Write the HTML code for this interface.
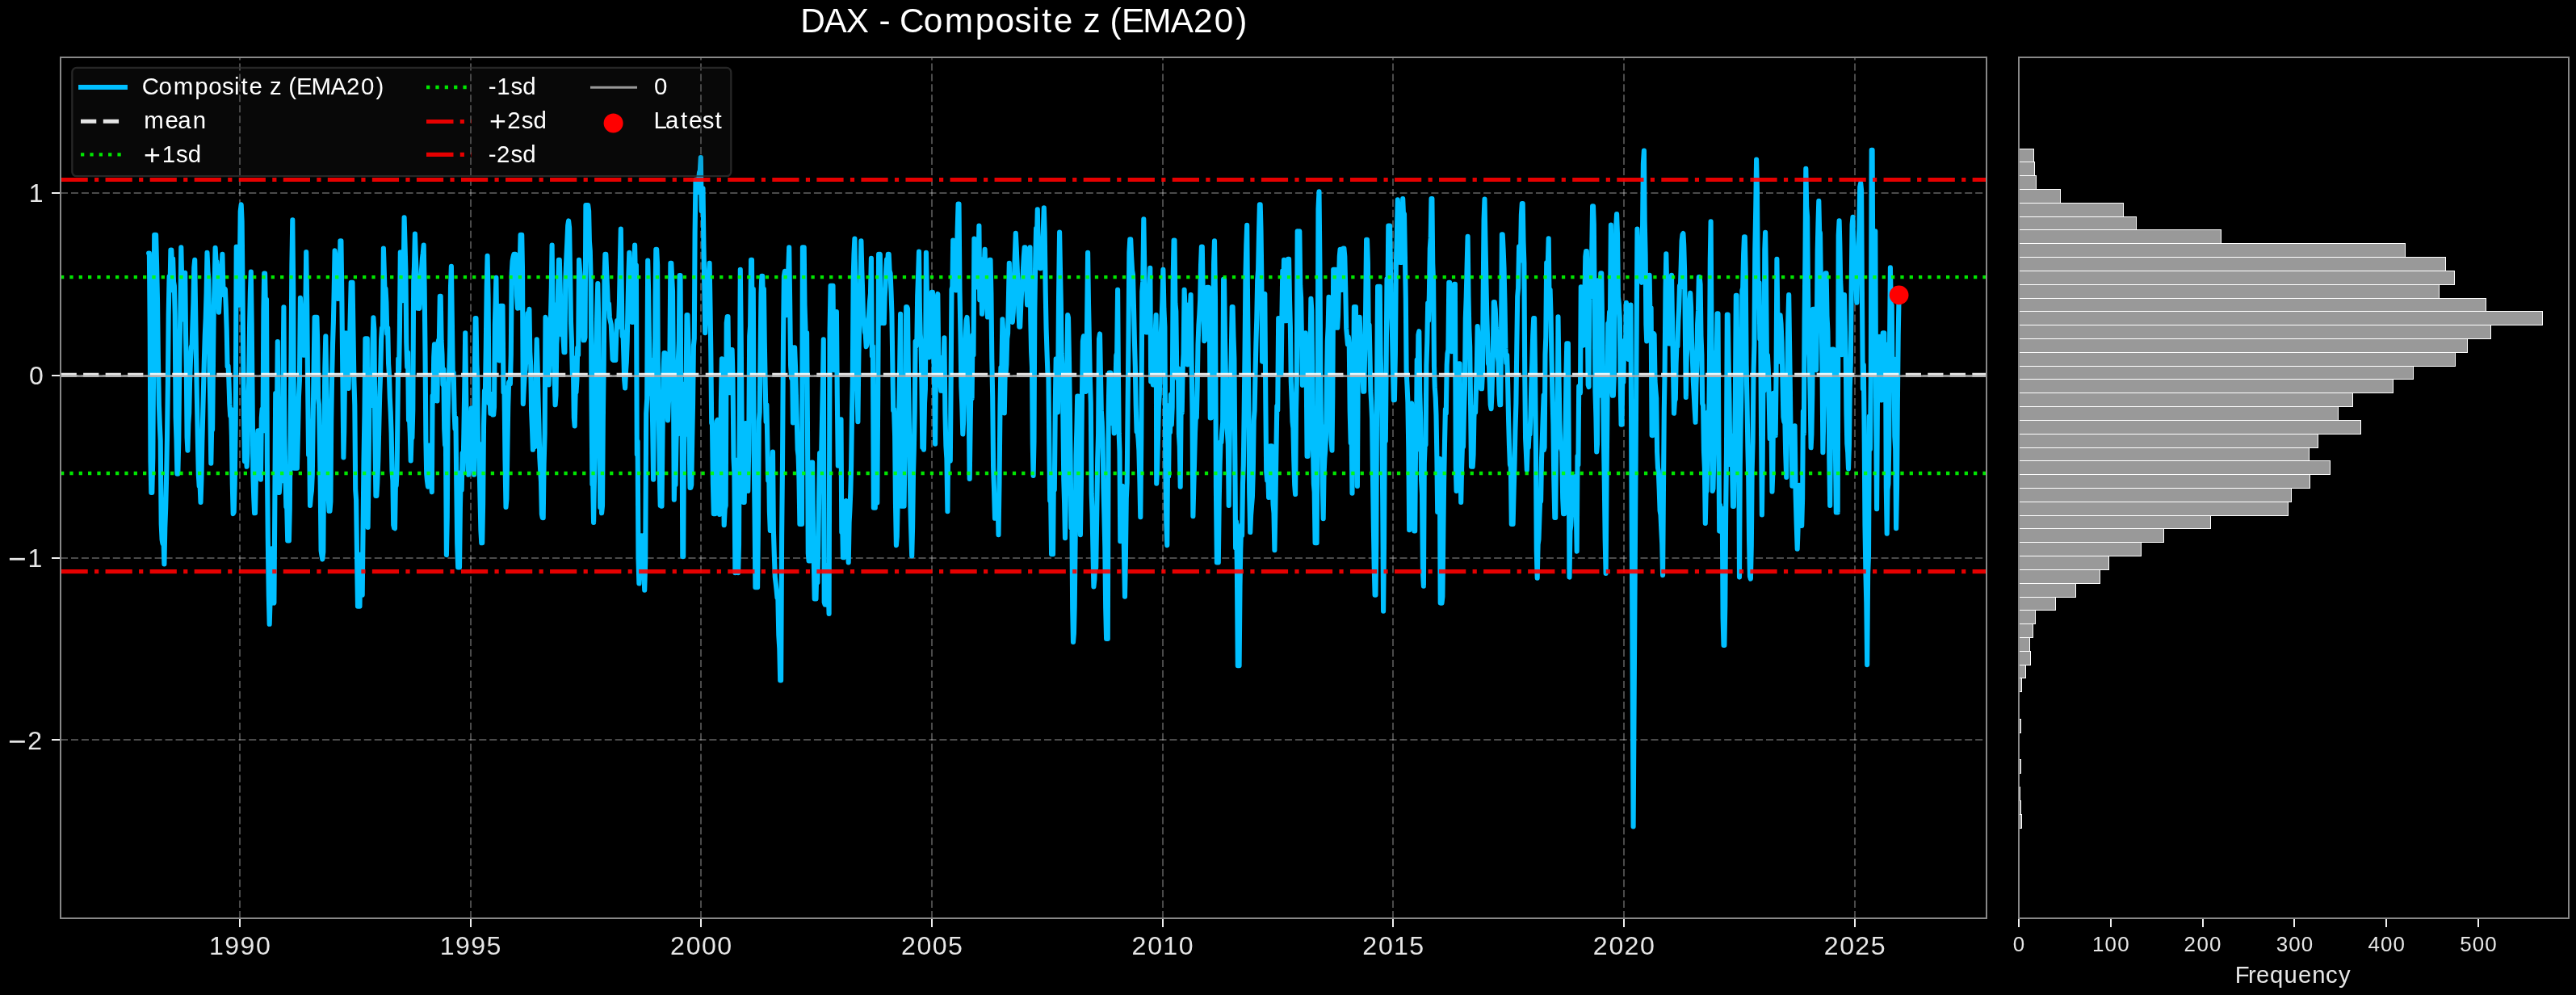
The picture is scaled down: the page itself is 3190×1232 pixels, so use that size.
<!DOCTYPE html><html><head><meta charset="utf-8"><title>DAX - Composite z (EMA20)</title><style>html,body{margin:0;padding:0;background:#000;}body{width:3190px;height:1232px;overflow:hidden;}</style></head><body><svg width="3190" height="1232" viewBox="0 0 3190 1232" style="display:block;will-change:transform">
<rect width="3190" height="1232" fill="#000"/>
<defs><clipPath id="cm"><rect x="75" y="71" width="2385" height="1066"/></clipPath></defs>
<g clip-path="url(#cm)" stroke="#ffffff" stroke-opacity="0.29" stroke-width="2" stroke-dasharray="9.05 3.907" fill="none">
<line x1="297" y1="1137" x2="297" y2="71"/>
<line x1="583" y1="1137" x2="583" y2="71"/>
<line x1="868" y1="1137" x2="868" y2="71"/>
<line x1="1154" y1="1137" x2="1154" y2="71"/>
<line x1="1440" y1="1137" x2="1440" y2="71"/>
<line x1="1725" y1="1137" x2="1725" y2="71"/>
<line x1="2011" y1="1137" x2="2011" y2="71"/>
<line x1="2297" y1="1137" x2="2297" y2="71"/>
<line x1="75" y1="239" x2="2460" y2="239"/>
<line x1="75" y1="465" x2="2460" y2="465"/>
<line x1="75" y1="691" x2="2460" y2="691"/>
<line x1="75" y1="916" x2="2460" y2="916"/>
</g>
<path d="M184.1,313.6 L184.9,313.6 L185.7,404.6 L186.5,572.1 L187.3,609.9 L188.3,609.9 L189.3,566.2 L190.2,443.7 L191.2,290.7 L192.2,290.7 L193.1,290.7 L194.1,329.3 L195.0,371.1 L195.9,444.0 L196.9,500.7 L197.8,525.6 L198.7,545.5 L199.7,648.8 L200.6,668.2 L201.5,673.1 L202.5,667.7 L203.4,698.4 L204.3,653.4 L205.2,628.4 L206.1,591.9 L207.0,541.6 L207.9,474.1 L208.7,390.0 L209.6,342.3 L210.5,359.9 L211.4,309.6 L212.3,309.6 L213.2,333.0 L214.1,320.2 L215.0,348.8 L215.9,354.1 L216.7,389.1 L217.6,516.7 L218.5,543.9 L219.4,586.6 L220.3,586.6 L221.3,544.9 L222.3,443.5 L223.3,389.5 L224.3,306.4 L225.1,343.7 L225.9,341.8 L226.8,395.4 L227.6,393.0 L228.4,345.3 L229.2,337.8 L230.0,412.1 L230.8,455.4 L231.6,541.7 L232.4,557.6 L233.3,525.1 L234.2,511.3 L235.0,474.3 L235.9,448.0 L236.8,429.8 L237.7,426.9 L238.6,398.2 L239.4,374.5 L240.3,331.3 L241.2,321.7 L242.1,383.3 L243.0,443.0 L243.9,493.5 L244.8,541.0 L245.8,587.3 L246.7,601.8 L247.6,599.3 L248.5,622.0 L249.4,593.8 L250.3,548.7 L251.2,513.4 L252.1,476.8 L252.9,445.1 L253.8,414.9 L254.7,394.2 L255.6,362.7 L256.5,312.8 L257.5,336.4 L258.4,346.1 L259.4,456.0 L260.3,501.1 L261.3,573.7 L262.2,527.7 L263.1,532.3 L264.0,447.0 L264.8,378.2 L265.7,349.8 L266.6,306.8 L267.5,322.8 L268.4,323.8 L269.2,336.3 L270.1,355.9 L271.0,386.6 L271.9,369.3 L272.8,358.8 L273.6,334.9 L274.5,332.9 L275.4,314.8 L276.3,353.0 L277.2,365.2 L278.1,357.3 L278.9,358.1 L279.8,380.2 L280.7,407.5 L281.6,453.8 L282.5,452.9 L283.4,470.5 L284.3,500.2 L285.2,514.9 L286.0,506.9 L286.9,539.5 L287.8,599.9 L288.7,636.1 L289.7,633.9 L290.7,599.5 L291.7,524.7 L292.7,305.6 L293.7,327.6 L294.7,342.5 L295.7,377.7 L296.7,350.3 L297.7,261.7 L298.7,253.3 L299.6,273.8 L300.4,345.8 L301.3,448.1 L302.1,517.2 L303.0,571.1 L303.9,552.7 L304.7,563.0 L305.6,577.7 L306.5,560.8 L307.3,498.6 L308.2,473.7 L309.1,403.4 L309.9,361.6 L310.8,336.6 L311.7,400.0 L312.5,481.7 L313.4,588.9 L314.3,617.0 L315.1,635.3 L316.0,635.3 L316.9,593.3 L317.7,553.8 L318.6,541.1 L319.4,533.3 L320.3,533.3 L321.2,543.2 L322.0,556.9 L322.9,593.8 L323.8,517.7 L324.6,506.6 L325.5,533.8 L326.4,383.9 L327.2,338.6 L328.1,338.6 L329.0,390.3 L330.0,370.7 L330.9,573.1 L331.8,667.7 L332.8,737.3 L333.7,772.8 L334.6,741.6 L335.6,710.5 L336.5,679.3 L337.5,746.6 L338.4,744.0 L339.4,746.6 L340.3,628.3 L341.2,487.0 L342.0,499.4 L342.9,522.7 L343.8,423.0 L344.8,609.9 L345.8,609.9 L346.7,596.4 L347.7,582.9 L348.6,595.3 L349.5,581.1 L350.5,466.1 L351.4,380.4 L352.4,538.8 L353.3,584.4 L354.3,627.4 L355.2,625.8 L356.2,669.4 L357.1,669.4 L357.9,669.4 L358.8,629.4 L359.7,518.0 L360.6,434.7 L361.4,328.3 L362.3,272.2 L363.2,358.5 L364.2,579.8 L365.1,579.8 L366.0,579.8 L367.0,579.8 L367.9,579.8 L368.9,539.1 L369.9,491.6 L370.9,471.1 L371.9,368.7 L372.8,384.9 L373.7,406.9 L374.6,437.9 L375.5,439.8 L376.5,439.8 L377.4,396.9 L378.3,388.1 L379.2,312.0 L380.2,377.2 L381.1,476.3 L382.1,563.1 L383.0,541.5 L384.0,626.0 L384.9,615.2 L385.9,607.6 L386.8,587.5 L387.7,520.9 L388.7,449.8 L389.6,392.9 L390.5,392.9 L391.5,392.9 L392.4,392.9 L393.3,428.3 L394.1,493.0 L395.0,500.9 L395.9,550.8 L396.7,600.1 L397.6,681.8 L398.4,687.3 L399.3,692.4 L400.3,683.3 L401.3,553.8 L402.3,455.9 L403.3,416.2 L404.2,473.4 L405.0,525.3 L405.9,581.4 L406.8,617.5 L407.6,632.8 L408.5,632.8 L409.4,621.0 L410.2,522.0 L411.1,465.4 L412.0,426.7 L412.9,398.7 L413.7,360.1 L414.6,310.4 L415.5,316.8 L416.3,340.8 L417.1,365.7 L418.0,370.0 L418.9,363.7 L419.7,365.5 L420.5,369.8 L421.4,298.4 L422.4,298.4 L423.4,372.4 L424.4,470.7 L425.4,566.5 L426.2,533.9 L427.0,469.3 L427.8,437.4 L428.6,412.2 L429.6,419.9 L430.6,438.6 L431.6,481.0 L432.7,437.2 L433.7,393.5 L434.7,349.8 L435.6,349.8 L436.5,349.8 L437.5,413.6 L438.4,470.4 L439.3,501.5 L440.2,606.3 L441.1,619.1 L442.1,693.1 L443.0,750.7 L443.9,750.7 L444.7,750.7 L445.5,750.7 L446.3,686.6 L447.1,714.9 L447.9,711.4 L448.7,736.6 L449.6,652.9 L450.5,570.8 L451.5,511.8 L452.4,419.4 L453.2,419.4 L454.0,419.4 L454.8,419.4 L455.6,652.9 L456.5,586.7 L457.3,506.6 L458.1,493.2 L459.0,502.5 L459.9,490.6 L460.7,490.3 L461.5,426.4 L462.4,393.3 L463.4,408.9 L464.4,540.2 L465.4,613.9 L466.4,613.9 L467.3,597.4 L468.3,569.6 L469.2,531.6 L470.2,489.2 L471.1,465.2 L472.1,420.6 L473.0,406.3 L474.0,404.1 L474.9,307.6 L475.8,336.3 L476.7,366.7 L477.5,357.3 L478.4,374.5 L479.3,413.2 L480.2,405.8 L481.1,450.6 L481.9,462.9 L482.8,492.5 L483.7,510.4 L484.6,535.9 L485.5,583.0 L486.4,595.0 L487.2,650.0 L488.1,653.7 L489.0,654.2 L489.9,597.5 L490.7,601.3 L491.6,581.5 L492.4,518.1 L493.2,444.3 L494.1,458.9 L494.9,409.1 L495.8,312.4 L496.6,352.4 L497.4,365.6 L498.2,372.2 L499.0,313.2 L499.8,331.2 L500.6,269.4 L501.5,301.4 L502.4,335.1 L503.3,424.3 L504.2,454.4 L505.1,436.5 L506.0,520.2 L506.9,515.2 L507.8,536.3 L508.7,570.5 L509.6,539.8 L510.4,542.3 L511.3,506.8 L512.2,348.2 L513.0,330.7 L513.9,289.5 L514.8,317.0 L515.7,339.5 L516.6,362.2 L517.5,381.8 L518.4,380.6 L519.3,381.8 L520.2,371.1 L521.1,356.7 L522.0,334.5 L522.9,320.5 L523.8,313.4 L524.7,303.6 L525.6,353.8 L526.5,435.0 L527.4,545.2 L528.2,586.7 L529.1,596.1 L530.0,602.7 L530.8,585.8 L531.6,567.4 L532.4,551.4 L533.2,574.3 L534.0,597.0 L534.8,609.1 L535.6,490.1 L536.4,497.5 L537.2,442.3 L538.0,426.2 L538.9,454.0 L539.7,460.1 L540.5,474.1 L541.4,496.4 L542.2,426.0 L543.1,421.1 L543.9,420.7 L544.8,366.7 L545.7,366.7 L546.6,422.0 L547.5,438.8 L548.4,476.3 L549.3,457.3 L550.2,530.9 L551.1,550.9 L552.0,553.3 L552.9,687.1 L553.8,640.0 L554.6,513.8 L555.5,475.3 L556.3,458.3 L557.2,428.3 L558.0,355.9 L558.9,329.7 L559.8,393.2 L560.7,459.6 L561.7,461.6 L562.6,510.5 L563.5,530.8 L564.4,517.6 L565.3,600.1 L566.2,673.3 L567.2,702.4 L568.1,702.4 L569.0,702.4 L569.9,628.6 L570.8,584.8 L571.7,606.8 L572.6,561.0 L573.5,583.0 L574.4,535.5 L575.3,479.3 L576.2,412.2 L577.2,489.0 L578.2,562.8 L579.2,550.5 L580.2,587.8 L581.1,578.6 L581.9,563.6 L582.8,538.1 L583.7,505.3 L584.5,555.3 L585.4,547.1 L586.2,573.2 L587.1,587.8 L587.9,454.3 L588.7,394.1 L589.5,394.1 L590.4,451.8 L591.2,470.2 L592.0,553.2 L592.9,548.8 L593.8,585.1 L594.6,620.1 L595.4,656.6 L596.3,672.3 L597.2,672.3 L598.1,623.7 L599.0,527.5 L600.0,483.9 L600.9,487.1 L601.8,430.1 L602.7,355.2 L603.6,316.9 L604.6,368.7 L605.5,499.2 L606.5,490.0 L607.4,511.8 L608.4,488.1 L609.3,502.1 L610.2,513.4 L611.2,513.4 L612.0,503.9 L612.8,402.6 L613.6,374.7 L614.4,343.8 L615.2,408.6 L616.0,427.0 L616.8,418.2 L617.6,446.1 L618.5,446.4 L619.5,378.8 L620.5,378.8 L621.5,378.8 L622.5,378.8 L623.5,485.6 L624.5,479.2 L625.5,569.4 L626.5,628.0 L627.4,617.8 L628.3,560.8 L629.2,504.0 L630.1,473.5 L631.0,471.9 L631.9,475.5 L632.8,438.7 L633.7,338.1 L634.6,323.2 L635.5,318.2 L636.4,314.8 L637.3,314.8 L638.2,314.8 L639.1,326.8 L640.0,366.0 L641.0,381.6 L641.9,362.5 L642.8,381.1 L643.7,330.7 L644.6,290.7 L645.4,290.7 L646.2,290.7 L647.0,333.3 L647.8,500.1 L648.8,479.8 L649.7,464.9 L650.6,456.8 L651.6,440.4 L652.5,428.3 L653.5,388.0 L654.4,390.3 L655.4,382.8 L656.3,435.8 L657.2,452.2 L658.1,508.9 L659.0,530.6 L659.9,556.8 L660.9,540.6 L661.8,552.5 L662.8,553.0 L663.7,464.7 L664.7,420.2 L665.6,452.9 L666.5,492.9 L667.4,524.9 L668.3,566.3 L669.1,580.7 L670.0,596.0 L670.9,636.6 L671.8,641.3 L672.7,641.3 L673.6,574.5 L674.6,537.0 L675.5,392.9 L676.5,398.9 L677.5,396.1 L678.5,412.0 L679.5,476.5 L680.4,450.9 L681.2,419.4 L682.0,392.2 L682.8,356.8 L683.6,303.6 L684.6,393.2 L685.6,376.8 L686.6,465.1 L687.6,501.3 L688.5,489.4 L689.3,426.1 L690.2,411.3 L691.1,356.5 L691.9,321.7 L692.8,321.7 L693.7,355.4 L694.7,394.9 L695.6,414.3 L696.6,404.2 L697.5,418.5 L698.5,436.2 L699.4,436.2 L700.3,345.6 L701.3,321.1 L702.2,301.8 L703.2,279.2 L704.1,273.4 L705.1,282.3 L706.0,335.0 L707.0,398.8 L707.9,421.2 L708.9,464.6 L709.8,443.0 L710.8,517.3 L711.7,527.5 L712.6,487.3 L713.5,485.8 L714.4,470.7 L715.2,430.5 L716.1,439.5 L717.0,321.7 L717.9,332.9 L718.9,343.6 L719.8,346.3 L720.7,377.4 L721.7,406.0 L722.6,421.3 L723.5,421.3 L724.5,417.8 L725.4,254.1 L726.3,254.1 L727.3,254.1 L728.2,254.1 L729.1,261.1 L729.9,298.7 L730.8,310.5 L731.7,348.3 L732.5,493.9 L733.4,599.8 L734.2,596.5 L735.1,646.9 L736.0,592.7 L736.8,550.2 L737.7,446.2 L738.6,413.8 L739.4,381.1 L740.3,351.0 L741.3,400.0 L742.2,528.8 L743.2,628.3 L744.1,605.9 L745.1,635.3 L746.0,626.1 L746.8,521.2 L747.7,451.4 L748.6,342.2 L749.4,314.8 L750.3,314.8 L751.2,338.0 L752.1,357.5 L753.1,381.7 L754.0,375.9 L754.9,393.0 L755.8,397.3 L756.8,401.7 L757.7,423.3 L758.6,444.9 L759.5,445.9 L760.5,445.9 L761.4,445.9 L762.3,445.9 L763.2,414.6 L764.2,397.0 L765.1,405.4 L766.0,403.6 L766.9,376.7 L767.9,325.1 L768.8,283.5 L769.7,354.5 L770.6,416.3 L771.5,410.6 L772.3,437.5 L773.2,470.8 L774.1,480.4 L775.0,459.9 L775.8,448.6 L776.7,422.7 L777.6,374.6 L778.4,340.4 L779.3,312.8 L780.1,336.2 L781.0,322.1 L781.9,349.7 L782.7,399.0 L783.6,399.0 L784.4,348.9 L785.2,334.5 L786.1,303.6 L787.0,352.0 L787.9,328.5 L788.8,562.8 L789.6,546.6 L790.5,691.7 L791.4,722.5 L792.2,703.2 L793.1,700.9 L793.9,692.5 L794.8,663.2 L795.6,696.5 L796.5,697.7 L797.4,708.8 L798.2,730.6 L799.2,695.2 L800.2,512.2 L801.2,493.8 L802.2,322.5 L803.1,359.2 L803.9,416.4 L804.8,451.2 L805.7,444.9 L806.5,487.6 L807.4,483.7 L808.2,528.7 L809.1,593.8 L809.9,509.1 L810.7,487.3 L811.5,370.0 L812.3,308.8 L813.2,308.8 L814.1,328.1 L815.0,478.3 L815.9,519.4 L816.8,587.4 L817.7,626.0 L818.6,598.8 L819.5,626.8 L820.5,538.7 L821.5,460.6 L822.5,437.1 L823.5,437.1 L824.4,459.6 L825.2,476.8 L826.1,497.2 L827.0,520.5 L827.8,499.7 L828.7,485.4 L829.5,433.4 L830.4,325.7 L831.3,325.7 L832.2,345.0 L833.0,360.6 L833.9,460.0 L834.8,618.8 L835.6,585.7 L836.5,600.2 L837.4,549.7 L838.2,516.1 L839.0,537.7 L839.9,445.1 L840.8,423.5 L841.6,341.0 L842.5,341.0 L843.5,520.8 L844.4,475.1 L845.3,689.1 L846.2,689.1 L847.0,548.8 L847.9,506.3 L848.8,537.9 L849.6,485.0 L850.5,390.0 L851.5,390.0 L852.5,427.1 L853.5,534.8 L854.5,603.9 L855.4,603.9 L856.2,600.4 L857.1,548.8 L858.0,502.1 L858.9,428.8 L859.8,419.0 L860.6,288.0 L861.5,222.5 L862.9,228.4 L864.3,238.0 L865.2,222.4 L866.0,213.8 L866.9,211.1 L867.8,195.0 L868.7,261.3 L869.6,240.6 L870.5,233.3 L871.4,301.7 L872.3,352.8 L873.2,412.2 L874.1,393.6 L875.0,380.8 L875.9,351.2 L876.8,347.0 L877.7,340.6 L878.6,325.7 L879.5,380.5 L880.3,437.0 L881.2,523.7 L882.0,525.9 L882.9,598.8 L883.8,636.1 L884.6,619.4 L885.5,636.1 L886.5,559.9 L887.5,521.7 L888.5,520.0 L889.3,559.0 L890.2,598.0 L891.0,637.0 L892.0,612.3 L892.9,496.3 L893.9,444.3 L894.8,512.9 L895.8,581.5 L896.7,650.1 L897.7,629.7 L898.7,626.0 L899.7,399.9 L900.7,392.1 L901.5,392.1 L902.3,460.0 L903.2,486.2 L904.0,486.2 L904.8,440.7 L905.6,433.1 L906.6,433.1 L907.5,465.4 L908.5,567.3 L909.4,586.2 L910.4,709.2 L911.3,569.6 L912.2,606.5 L913.1,661.0 L914.1,709.2 L915.0,674.3 L915.9,492.2 L916.8,333.7 L917.8,427.5 L918.8,543.9 L919.7,570.4 L920.7,622.0 L921.7,622.0 L922.6,566.2 L923.5,524.0 L924.4,552.0 L925.4,580.0 L926.3,608.0 L927.2,556.2 L928.2,416.2 L929.1,403.8 L930.1,321.7 L931.0,321.7 L931.9,465.9 L932.8,357.9 L933.7,561.0 L934.5,630.2 L935.4,727.3 L936.3,727.3 L937.2,682.9 L938.1,727.3 L939.0,639.6 L939.8,521.6 L940.7,510.2 L941.6,435.9 L942.5,363.8 L943.3,341.8 L944.2,341.8 L945.1,375.4 L945.9,357.9 L946.8,425.1 L947.7,476.9 L948.6,522.1 L949.4,501.3 L950.3,546.6 L951.2,595.0 L952.1,574.2 L952.9,633.3 L953.8,657.0 L954.6,632.6 L955.4,608.3 L956.2,584.0 L957.0,559.6 L957.9,658.2 L958.8,686.4 L959.8,714.7 L960.7,722.1 L961.6,730.3 L962.5,740.1 L963.4,741.7 L964.3,786.3 L965.3,803.0 L966.2,842.4 L967.1,842.4 L968.1,663.9 L969.0,576.1 L970.0,422.4 L970.9,341.9 L971.9,335.8 L972.8,369.5 L973.7,377.6 L974.5,390.1 L975.4,387.0 L976.3,332.8 L977.2,306.4 L978.2,377.8 L979.1,452.9 L980.1,468.1 L981.0,443.3 L982.0,523.5 L982.6,474.0 L983.2,430.3 L984.1,430.3 L985.0,453.6 L985.9,488.7 L986.8,519.8 L987.7,556.6 L988.6,564.4 L989.5,593.0 L990.4,648.9 L991.3,583.7 L992.2,648.9 L993.0,648.9 L993.9,306.4 L994.8,306.4 L995.7,306.4 L996.5,377.5 L997.4,405.2 L998.2,450.8 L999.1,412.0 L999.9,517.5 L1000.8,685.5 L1001.6,694.4 L1002.5,694.4 L1003.4,694.4 L1004.3,607.8 L1005.2,572.5 L1006.1,572.5 L1007.0,644.9 L1007.9,698.7 L1008.7,741.4 L1009.6,723.8 L1010.5,741.4 L1011.4,704.3 L1012.4,721.2 L1013.3,674.3 L1014.2,611.3 L1015.1,561.0 L1016.1,567.3 L1017.0,573.1 L1017.9,525.8 L1018.9,476.8 L1019.8,420.2 L1020.7,745.6 L1021.6,748.7 L1022.5,748.7 L1023.4,748.7 L1024.2,733.2 L1025.0,700.1 L1025.8,733.3 L1026.6,759.9 L1027.6,409.4 L1028.6,353.9 L1029.6,353.9 L1030.6,353.9 L1031.5,353.9 L1032.4,458.3 L1033.2,458.3 L1034.1,442.3 L1035.0,414.0 L1035.9,386.0 L1036.8,490.0 L1037.8,576.8 L1038.7,576.8 L1039.6,528.6 L1040.6,576.8 L1041.5,519.4 L1042.3,659.1 L1043.1,642.3 L1043.9,690.3 L1044.7,690.3 L1045.7,658.0 L1046.7,626.3 L1047.7,620.1 L1048.7,656.7 L1049.7,669.1 L1050.7,696.4 L1051.6,647.1 L1052.4,631.7 L1053.3,609.4 L1054.1,576.8 L1055.0,515.5 L1055.8,473.4 L1056.7,344.1 L1057.5,314.5 L1058.4,295.5 L1059.4,352.2 L1060.4,408.9 L1061.4,465.6 L1062.4,522.3 L1063.4,438.3 L1064.4,392.6 L1065.4,357.3 L1066.4,298.4 L1067.3,334.0 L1068.2,361.6 L1069.1,392.0 L1070.0,398.9 L1070.9,411.1 L1071.8,414.2 L1072.7,429.2 L1073.5,426.6 L1074.4,415.3 L1075.3,400.2 L1076.2,385.9 L1077.1,372.6 L1078.0,363.6 L1078.9,319.7 L1079.9,440.6 L1080.9,428.9 L1081.9,628.8 L1082.9,628.8 L1083.8,628.8 L1084.6,530.1 L1085.5,576.3 L1086.3,622.5 L1087.2,488.7 L1088.1,314.8 L1088.9,320.7 L1089.8,314.8 L1090.6,400.2 L1091.5,389.8 L1092.3,395.2 L1093.1,378.0 L1094.0,400.2 L1094.8,400.2 L1095.6,368.1 L1096.5,354.0 L1097.3,332.1 L1098.1,321.3 L1099.0,328.7 L1099.8,314.8 L1100.7,314.8 L1101.6,335.0 L1102.6,338.5 L1103.5,360.9 L1104.4,387.0 L1105.3,447.7 L1106.2,508.2 L1107.1,506.4 L1108.1,539.3 L1109.0,624.2 L1109.9,675.1 L1110.8,664.2 L1111.6,623.6 L1112.5,594.1 L1113.4,501.7 L1114.2,453.6 L1115.1,388.8 L1116.0,626.8 L1116.9,626.8 L1117.8,626.8 L1118.7,626.8 L1119.6,626.8 L1120.5,555.5 L1121.3,491.2 L1122.2,380.0 L1123.1,380.0 L1124.0,382.2 L1124.8,455.8 L1125.7,516.7 L1126.6,573.1 L1127.5,629.1 L1128.3,659.4 L1129.2,688.3 L1130.1,652.2 L1131.0,586.4 L1131.8,557.5 L1132.7,510.8 L1133.6,422.7 L1134.5,429.0 L1135.4,421.6 L1136.2,366.0 L1137.1,340.8 L1138.0,311.6 L1138.9,382.2 L1139.7,413.8 L1140.6,426.2 L1141.4,473.6 L1142.3,553.9 L1143.1,550.3 L1144.0,556.8 L1145.0,499.0 L1145.9,481.8 L1146.9,312.8 L1147.9,365.6 L1148.9,385.3 L1149.9,436.8 L1150.9,442.4 L1151.9,435.9 L1152.9,416.2 L1153.9,361.9 L1154.9,361.9 L1155.7,393.2 L1156.5,445.6 L1157.3,484.1 L1158.1,549.6 L1158.9,473.4 L1159.7,413.7 L1160.5,369.1 L1161.3,363.9 L1162.3,449.8 L1163.3,442.1 L1164.3,469.6 L1165.3,483.8 L1166.2,479.4 L1167.0,483.8 L1167.8,475.7 L1168.6,447.0 L1169.4,418.2 L1170.4,511.1 L1171.4,552.0 L1172.4,568.0 L1173.4,633.2 L1174.2,546.4 L1175.1,543.8 L1176.0,566.8 L1176.8,570.7 L1177.7,462.9 L1178.5,358.2 L1179.4,354.7 L1180.2,297.6 L1181.1,319.4 L1182.0,347.2 L1182.9,350.8 L1183.8,359.5 L1184.8,328.0 L1185.7,283.1 L1186.6,252.5 L1187.5,252.5 L1188.5,360.1 L1189.4,410.3 L1190.4,479.0 L1191.3,501.2 L1192.3,537.5 L1193.2,520.3 L1194.0,469.9 L1194.9,439.7 L1195.8,414.5 L1196.6,396.6 L1197.5,392.9 L1198.3,411.9 L1199.1,469.5 L1199.9,516.4 L1200.7,593.0 L1201.7,522.5 L1202.6,468.2 L1203.6,493.2 L1204.5,414.7 L1205.5,439.6 L1206.4,295.5 L1207.4,317.6 L1208.4,355.5 L1209.4,355.5 L1210.4,342.0 L1211.4,341.3 L1212.4,279.5 L1213.3,371.4 L1214.2,353.9 L1215.1,321.1 L1216.0,388.8 L1216.9,374.5 L1217.8,379.4 L1218.7,332.2 L1219.6,308.8 L1220.5,347.5 L1221.3,360.7 L1222.2,374.6 L1223.0,392.5 L1223.9,392.5 L1224.8,353.3 L1225.6,321.7 L1226.5,321.7 L1227.4,362.7 L1228.3,444.6 L1229.2,490.8 L1230.1,578.1 L1231.0,604.7 L1232.0,641.8 L1232.9,628.3 L1233.8,630.1 L1234.7,613.5 L1235.6,615.7 L1236.5,662.2 L1237.5,596.9 L1238.5,503.1 L1239.4,455.0 L1240.4,456.7 L1241.4,395.3 L1242.2,409.8 L1243.0,459.0 L1243.8,511.4 L1244.7,458.0 L1245.5,463.2 L1246.4,451.2 L1247.2,419.3 L1248.1,412.6 L1248.9,371.4 L1249.8,325.7 L1250.8,367.3 L1251.8,394.7 L1252.8,396.3 L1253.8,398.8 L1254.8,386.8 L1255.8,353.6 L1256.8,316.8 L1257.8,288.7 L1258.7,307.0 L1259.6,329.6 L1260.5,354.2 L1261.4,385.4 L1262.3,404.6 L1263.2,404.6 L1264.2,379.1 L1265.1,361.3 L1266.0,354.7 L1266.9,335.0 L1267.8,318.4 L1268.7,306.4 L1269.5,306.4 L1270.4,321.2 L1271.2,356.4 L1272.1,377.4 L1272.9,377.4 L1273.8,359.0 L1274.7,327.7 L1275.5,306.4 L1276.3,396.0 L1277.1,435.0 L1278.0,454.2 L1278.8,550.2 L1279.6,589.0 L1280.5,546.1 L1281.3,386.9 L1282.2,324.0 L1283.1,282.9 L1283.9,299.1 L1284.8,259.4 L1285.8,314.8 L1286.8,322.8 L1287.8,332.1 L1288.8,332.1 L1289.8,312.7 L1290.8,308.1 L1291.8,287.1 L1292.8,257.3 L1293.7,287.4 L1294.7,361.2 L1295.6,407.0 L1296.5,435.5 L1297.4,461.1 L1298.4,465.0 L1299.3,550.2 L1300.2,620.0 L1301.2,617.9 L1302.1,686.3 L1303.0,675.3 L1304.0,686.3 L1304.9,590.3 L1305.8,606.5 L1306.8,501.1 L1307.7,444.3 L1308.8,481.3 L1309.9,510.5 L1311.0,372.6 L1312.1,287.5 L1313.0,335.6 L1313.8,373.4 L1314.7,437.7 L1315.5,455.3 L1316.4,517.2 L1317.3,594.5 L1318.1,622.4 L1319.0,666.2 L1319.8,624.8 L1320.6,562.1 L1321.4,447.6 L1322.2,390.0 L1323.0,393.5 L1323.9,441.4 L1324.8,500.9 L1325.6,567.2 L1326.5,653.6 L1327.3,631.3 L1328.2,754.3 L1329.0,794.9 L1329.9,784.4 L1330.7,750.7 L1331.6,669.8 L1332.5,564.1 L1333.4,530.1 L1334.2,490.6 L1335.1,490.6 L1336.0,568.1 L1337.0,626.2 L1337.9,662.2 L1338.9,595.1 L1339.9,494.9 L1340.9,422.4 L1341.9,416.2 L1342.8,458.7 L1343.6,469.3 L1344.5,484.9 L1345.4,465.4 L1346.2,391.6 L1347.1,312.8 L1348.0,376.7 L1348.9,419.9 L1349.8,467.1 L1350.8,499.2 L1351.7,611.2 L1352.6,636.4 L1353.5,683.2 L1354.4,726.5 L1355.4,716.9 L1356.3,682.7 L1357.2,702.9 L1358.2,638.8 L1359.2,568.4 L1360.1,537.7 L1361.0,419.7 L1362.0,413.4 L1362.9,462.1 L1363.8,508.4 L1364.7,521.9 L1365.6,544.9 L1366.5,604.5 L1367.4,637.3 L1368.3,677.2 L1369.2,753.1 L1370.1,790.9 L1371.0,790.9 L1371.8,790.9 L1372.7,510.3 L1373.6,461.6 L1374.4,461.6 L1375.3,461.6 L1376.2,483.1 L1377.1,524.3 L1377.9,519.3 L1378.8,512.1 L1379.7,536.5 L1380.6,513.1 L1381.5,475.9 L1382.3,440.2 L1383.2,437.1 L1384.1,358.7 L1384.9,463.1 L1385.7,536.7 L1386.5,559.1 L1387.3,670.2 L1388.2,646.2 L1389.2,602.5 L1390.2,601.9 L1391.1,641.6 L1392.0,683.4 L1393.0,738.6 L1393.9,688.4 L1394.8,617.2 L1395.7,597.7 L1396.6,504.1 L1397.5,415.9 L1398.4,312.3 L1399.3,296.3 L1400.2,296.3 L1401.1,317.3 L1402.1,335.0 L1403.0,340.1 L1403.9,376.9 L1404.9,421.8 L1405.8,453.7 L1406.7,502.4 L1407.6,534.3 L1408.6,534.0 L1409.5,542.9 L1410.4,557.2 L1411.4,595.9 L1412.3,640.1 L1413.3,540.4 L1414.3,361.3 L1415.3,348.4 L1416.3,271.4 L1417.3,334.7 L1418.3,370.9 L1419.3,411.5 L1420.3,411.5 L1421.3,411.5 L1422.3,411.5 L1423.3,380.6 L1424.3,331.7 L1425.2,472.6 L1426.1,465.3 L1427.0,446.1 L1427.9,476.4 L1428.9,456.8 L1429.8,448.4 L1430.7,411.7 L1431.6,390.0 L1431.9,429.8 L1432.2,598.7 L1433.1,581.1 L1434.0,542.9 L1434.9,502.3 L1435.8,488.8 L1436.8,448.5 L1437.7,415.1 L1438.6,396.0 L1439.5,369.5 L1440.4,333.7 L1441.4,382.7 L1442.4,404.9 L1443.3,573.4 L1444.3,646.7 L1445.3,675.1 L1446.2,552.5 L1447.1,589.8 L1448.1,501.9 L1449.0,535.2 L1449.9,488.6 L1450.8,525.9 L1451.7,504.2 L1452.7,344.5 L1453.6,297.6 L1454.5,297.6 L1455.4,375.5 L1456.3,385.4 L1457.2,456.0 L1458.1,468.9 L1459.0,456.3 L1459.9,537.3 L1460.8,552.9 L1461.7,602.7 L1462.7,493.8 L1463.7,510.9 L1464.6,458.3 L1465.6,438.2 L1466.6,358.7 L1467.6,384.6 L1468.6,376.8 L1469.6,404.6 L1470.6,451.4 L1471.6,435.0 L1472.6,398.0 L1473.6,387.3 L1474.6,365.1 L1475.5,442.6 L1476.5,508.0 L1477.4,639.3 L1478.3,602.5 L1479.2,567.7 L1480.0,535.3 L1480.9,513.6 L1481.8,517.2 L1482.7,478.2 L1483.5,426.3 L1484.4,403.3 L1485.3,389.5 L1486.2,371.5 L1487.0,329.8 L1487.9,305.6 L1488.8,305.6 L1489.6,357.8 L1490.5,371.6 L1491.3,422.2 L1492.2,421.0 L1493.0,419.5 L1493.9,384.6 L1494.7,355.9 L1495.7,355.9 L1496.7,355.9 L1497.7,378.5 L1498.7,517.4 L1499.6,517.4 L1500.5,453.1 L1501.3,472.3 L1502.2,398.9 L1503.1,325.3 L1504.0,298.4 L1505.0,370.9 L1505.9,602.9 L1506.9,696.4 L1507.8,696.4 L1508.8,696.4 L1509.7,620.0 L1510.6,575.9 L1511.5,547.2 L1512.4,547.8 L1513.3,533.8 L1514.2,522.8 L1515.1,345.8 L1516.0,345.8 L1517.0,419.7 L1517.9,462.6 L1518.8,497.7 L1519.8,532.3 L1520.8,550.0 L1521.7,626.0 L1522.7,544.2 L1523.7,492.0 L1524.7,444.8 L1525.7,380.0 L1526.6,380.0 L1527.5,417.2 L1528.4,443.6 L1529.3,561.7 L1530.1,678.4 L1531.0,646.1 L1531.9,702.0 L1532.8,824.3 L1533.7,824.3 L1534.6,824.3 L1535.5,726.2 L1536.3,679.3 L1537.2,650.1 L1538.1,662.9 L1539.0,599.4 L1539.8,576.0 L1540.7,510.3 L1541.6,432.8 L1542.5,340.1 L1543.3,303.9 L1544.2,278.7 L1545.2,388.6 L1546.2,484.5 L1547.2,609.9 L1548.2,659.0 L1549.1,637.7 L1550.0,626.3 L1550.9,615.0 L1551.8,582.4 L1552.7,521.1 L1553.6,508.3 L1554.5,463.5 L1555.4,425.4 L1556.3,394.1 L1557.2,346.5 L1558.1,334.3 L1559.0,290.0 L1559.9,253.3 L1560.7,253.3 L1561.5,285.6 L1562.3,342.3 L1563.1,447.6 L1563.9,447.6 L1564.7,411.9 L1565.5,364.3 L1566.3,363.9 L1567.3,496.6 L1568.2,583.7 L1569.2,594.9 L1570.1,581.7 L1571.1,616.0 L1572.0,578.0 L1572.9,552.3 L1573.8,552.3 L1574.8,552.3 L1575.7,600.0 L1576.6,625.3 L1577.5,635.3 L1578.4,681.1 L1579.4,627.6 L1580.3,564.7 L1581.3,502.8 L1582.2,508.2 L1583.2,394.1 L1584.0,400.9 L1584.9,428.7 L1585.8,450.7 L1586.6,464.1 L1587.4,393.9 L1588.3,335.4 L1589.2,362.8 L1590.0,321.7 L1591.0,397.3 L1592.0,397.3 L1593.0,397.3 L1594.1,351.2 L1595.1,320.9 L1596.1,320.9 L1597.0,371.4 L1597.9,404.0 L1598.8,472.6 L1599.7,495.6 L1600.5,522.1 L1601.4,530.1 L1602.3,570.7 L1603.2,600.6 L1604.1,611.9 L1605.0,507.9 L1605.8,471.2 L1606.7,286.3 L1607.6,286.3 L1608.4,288.3 L1609.3,286.3 L1610.2,353.3 L1611.1,368.5 L1612.0,421.3 L1612.9,476.9 L1613.9,470.4 L1614.8,446.1 L1615.7,425.3 L1616.6,412.2 L1617.6,446.9 L1618.6,564.9 L1619.6,564.9 L1620.5,543.3 L1621.5,521.4 L1622.4,443.0 L1623.4,369.9 L1624.3,384.1 L1625.1,462.5 L1626.0,555.0 L1626.9,599.3 L1627.7,609.2 L1628.6,672.3 L1629.6,672.3 L1630.6,672.3 L1631.5,533.3 L1632.5,258.8 L1633.5,237.2 L1634.4,325.5 L1635.2,442.2 L1636.1,543.1 L1637.0,527.8 L1637.8,601.0 L1638.7,642.1 L1639.5,588.7 L1640.4,567.4 L1641.2,557.8 L1642.1,537.8 L1643.0,471.3 L1643.8,422.5 L1644.7,404.3 L1645.5,367.9 L1646.5,443.4 L1647.5,506.7 L1648.5,544.8 L1649.5,557.6 L1650.3,489.3 L1651.2,333.7 L1652.0,333.7 L1652.8,333.7 L1653.6,333.7 L1654.5,405.8 L1655.3,405.8 L1656.2,405.8 L1657.0,391.2 L1657.9,352.9 L1658.8,317.6 L1659.6,308.8 L1660.4,308.8 L1661.2,352.3 L1662.0,358.9 L1662.8,346.8 L1663.6,307.6 L1664.4,307.6 L1665.3,317.5 L1666.2,355.7 L1667.2,406.4 L1668.1,417.1 L1669.0,426.5 L1669.9,417.4 L1670.8,428.8 L1671.7,509.4 L1672.7,548.4 L1673.6,525.0 L1674.5,610.7 L1675.3,488.7 L1676.1,476.5 L1676.9,380.0 L1677.9,380.0 L1678.9,380.0 L1679.9,444.3 L1680.9,601.9 L1681.8,451.5 L1682.8,440.7 L1683.7,392.9 L1684.6,420.8 L1685.6,416.5 L1686.5,460.0 L1687.4,463.8 L1688.3,484.8 L1689.3,484.8 L1690.2,430.5 L1691.1,385.3 L1692.1,296.8 L1693.0,296.8 L1693.9,325.4 L1694.7,409.3 L1695.6,402.1 L1696.5,441.7 L1697.4,483.8 L1698.2,497.7 L1699.1,518.5 L1700.0,590.2 L1700.9,653.5 L1701.7,699.6 L1702.6,736.6 L1703.5,736.6 L1704.3,671.4 L1705.2,464.8 L1706.1,354.7 L1707.0,354.7 L1707.8,376.5 L1708.7,354.7 L1709.6,439.3 L1710.5,469.8 L1711.3,518.8 L1712.2,616.8 L1713.1,756.7 L1714.0,673.3 L1714.9,515.3 L1715.8,546.0 L1716.7,444.2 L1717.5,345.4 L1718.4,376.1 L1719.3,279.5 L1720.2,279.5 L1721.1,279.5 L1722.1,346.8 L1723.0,388.6 L1724.0,413.3 L1724.9,456.2 L1725.9,495.3 L1726.9,495.3 L1727.9,437.8 L1728.8,330.3 L1729.8,294.1 L1730.8,247.3 L1731.6,260.2 L1732.4,304.8 L1733.2,315.3 L1734.0,324.9 L1734.8,324.9 L1735.6,324.9 L1736.4,294.0 L1737.2,246.1 L1738.1,268.7 L1739.0,264.7 L1739.9,316.5 L1740.8,369.0 L1741.6,458.3 L1742.5,476.5 L1743.4,498.0 L1744.3,556.8 L1745.2,656.2 L1746.2,576.9 L1747.1,500.3 L1748.1,499.4 L1748.9,513.6 L1749.7,560.9 L1750.5,605.9 L1751.3,657.4 L1752.2,657.4 L1753.0,558.9 L1753.9,557.2 L1754.7,445.6 L1755.6,476.5 L1756.4,414.9 L1757.3,410.2 L1758.2,484.2 L1759.2,519.9 L1760.1,594.8 L1761.0,611.7 L1762.0,708.9 L1762.9,725.7 L1763.8,573.6 L1764.7,549.0 L1765.5,550.9 L1766.4,452.2 L1767.3,422.9 L1768.2,375.4 L1769.0,396.8 L1769.9,364.5 L1770.8,307.8 L1771.7,294.9 L1772.5,246.1 L1773.4,246.1 L1774.2,325.9 L1775.1,349.2 L1776.0,454.1 L1776.8,479.9 L1777.7,492.5 L1778.5,514.0 L1779.4,567.1 L1780.2,634.0 L1781.1,618.1 L1782.0,613.3 L1782.8,568.0 L1783.7,746.6 L1784.6,746.6 L1785.5,746.6 L1786.4,738.7 L1787.3,661.9 L1788.1,598.9 L1789.0,548.5 L1789.9,506.8 L1790.8,511.9 L1791.7,452.0 L1792.5,437.5 L1793.4,433.2 L1794.3,349.8 L1795.1,349.8 L1796.0,402.7 L1796.8,434.5 L1797.7,435.1 L1798.5,399.8 L1799.4,396.7 L1800.2,361.2 L1801.1,351.8 L1801.9,351.8 L1802.8,578.2 L1803.6,607.9 L1804.6,534.2 L1805.6,500.1 L1806.6,450.4 L1807.6,450.4 L1808.4,536.2 L1809.2,622.0 L1810.1,578.9 L1811.1,548.2 L1812.0,553.4 L1812.9,514.0 L1813.9,480.0 L1814.8,394.4 L1815.7,368.3 L1816.7,327.2 L1817.6,292.7 L1818.5,367.0 L1819.3,406.8 L1820.2,429.7 L1821.1,501.4 L1822.0,577.7 L1822.8,577.7 L1823.7,577.7 L1824.6,562.5 L1825.4,516.2 L1826.3,503.8 L1827.1,511.0 L1828.0,481.4 L1828.8,452.8 L1829.7,404.1 L1830.6,416.3 L1831.5,447.5 L1832.3,449.9 L1833.2,469.7 L1834.1,481.3 L1835.0,481.3 L1835.9,462.8 L1836.7,362.4 L1837.6,271.5 L1838.5,246.5 L1839.4,297.3 L1840.3,343.0 L1841.2,388.6 L1842.1,419.1 L1843.0,450.0 L1843.9,452.9 L1844.8,474.6 L1845.7,501.1 L1846.6,506.2 L1847.4,488.6 L1848.2,458.8 L1849.0,427.7 L1849.8,374.0 L1850.8,374.0 L1851.7,382.7 L1852.7,405.3 L1853.6,415.8 L1854.5,439.6 L1855.5,448.5 L1856.5,488.0 L1857.4,501.3 L1858.2,501.3 L1859.1,415.3 L1859.9,290.3 L1860.7,290.3 L1861.6,308.7 L1862.5,331.7 L1863.5,376.3 L1864.4,431.4 L1865.3,449.2 L1866.2,439.7 L1867.2,476.1 L1868.1,520.2 L1869.0,552.0 L1869.9,575.2 L1870.9,578.2 L1871.8,648.9 L1872.7,648.9 L1873.6,648.9 L1874.6,609.3 L1875.5,576.7 L1876.4,533.9 L1877.4,499.5 L1878.3,430.0 L1879.2,367.3 L1880.1,356.8 L1881.1,305.4 L1882.0,311.4 L1882.9,322.6 L1883.9,265.8 L1884.8,252.1 L1885.7,252.1 L1886.5,299.0 L1887.4,325.4 L1888.2,460.6 L1889.1,543.3 L1889.9,560.0 L1890.8,581.8 L1891.7,554.7 L1892.7,554.4 L1893.6,537.3 L1894.5,538.0 L1895.4,515.8 L1896.4,472.7 L1897.3,448.7 L1898.2,416.0 L1899.2,394.1 L1900.1,394.1 L1901.0,455.4 L1901.9,551.8 L1902.8,683.0 L1903.7,715.7 L1904.6,674.0 L1905.5,667.8 L1906.4,640.7 L1907.3,615.6 L1908.1,621.0 L1909.0,568.9 L1909.9,542.2 L1910.8,513.9 L1911.7,489.4 L1911.8,523.3 L1911.8,557.3 L1912.6,554.1 L1913.5,439.4 L1914.3,417.3 L1915.2,325.4 L1916.0,330.0 L1916.9,323.8 L1917.7,295.4 L1918.6,375.7 L1919.6,358.7 L1920.5,389.7 L1921.5,443.9 L1922.4,487.3 L1923.4,524.6 L1924.3,593.7 L1925.3,640.9 L1926.2,640.9 L1927.0,558.3 L1927.8,549.4 L1928.7,517.6 L1929.5,392.4 L1930.5,467.5 L1931.4,520.7 L1932.3,551.2 L1933.3,555.0 L1934.2,559.2 L1935.2,617.1 L1936.1,636.1 L1937.1,636.1 L1937.9,566.9 L1938.7,524.9 L1939.5,462.6 L1940.3,425.4 L1941.1,425.4 L1941.9,425.4 L1942.7,550.6 L1943.5,714.6 L1944.4,657.4 L1945.3,650.9 L1946.3,631.1 L1947.2,610.3 L1948.1,590.3 L1949.0,590.3 L1949.9,590.3 L1950.9,590.3 L1951.8,627.3 L1952.7,682.6 L1953.5,564.9 L1954.4,575.5 L1955.2,478.2 L1956.1,480.4 L1957.0,486.6 L1957.8,355.3 L1958.8,383.8 L1959.9,411.3 L1960.9,427.6 L1961.7,415.4 L1962.5,365.0 L1963.3,317.8 L1964.1,311.0 L1964.9,311.0 L1965.8,391.0 L1966.7,476.6 L1967.5,479.2 L1968.4,350.7 L1969.3,367.6 L1970.2,363.0 L1971.2,315.6 L1972.1,255.3 L1973.0,255.3 L1973.8,277.9 L1974.7,382.4 L1975.5,485.6 L1976.4,516.1 L1977.2,559.4 L1978.0,549.5 L1978.9,347.2 L1979.8,361.7 L1980.6,425.7 L1981.5,489.6 L1982.3,338.4 L1983.2,338.4 L1984.1,396.7 L1985.0,473.7 L1985.9,540.9 L1986.8,596.2 L1987.7,668.1 L1988.6,710.0 L1989.5,596.8 L1990.4,508.5 L1991.3,400.6 L1992.2,404.6 L1993.1,386.4 L1994.0,389.3 L1994.9,278.5 L1995.9,472.8 L1996.9,489.7 L1997.9,489.7 L1998.7,468.7 L1999.6,366.4 L2000.4,319.4 L2001.3,279.6 L2002.1,265.0 L2003.0,290.3 L2003.9,367.9 L2004.8,375.9 L2005.8,394.1 L2006.7,474.7 L2007.6,525.6 L2008.5,525.6 L2009.4,462.8 L2010.3,473.3 L2011.2,422.1 L2012.1,436.5 L2013.0,438.0 L2013.9,374.7 L2014.8,390.5 L2015.7,400.5 L2016.7,444.9 L2017.6,407.5 L2018.5,388.4 L2019.4,377.6 L2022.6,1023.5 L2027.5,283.5 L2028.4,308.2 L2029.3,330.3 L2030.2,341.8 L2031.1,340.0 L2032.0,343.8 L2033.0,349.8 L2033.9,296.7 L2034.9,202.4 L2035.9,186.5 L2036.7,273.6 L2037.6,315.0 L2038.4,401.6 L2039.2,422.5 L2040.1,399.0 L2040.9,361.8 L2041.8,351.9 L2042.6,340.9 L2043.6,401.9 L2044.6,381.3 L2045.6,539.1 L2046.7,539.1 L2047.7,412.7 L2048.6,414.3 L2049.5,471.8 L2050.3,482.7 L2051.2,493.2 L2052.1,559.8 L2053.0,579.3 L2053.8,583.4 L2054.7,605.6 L2055.6,632.5 L2056.5,637.4 L2057.3,655.4 L2058.2,672.8 L2059.1,712.1 L2059.9,611.9 L2060.8,507.9 L2061.6,459.5 L2062.5,357.6 L2063.3,314.4 L2064.1,352.4 L2065.0,376.8 L2065.8,386.3 L2066.7,425.5 L2067.5,425.5 L2068.3,425.5 L2069.2,425.5 L2070.0,340.9 L2071.0,397.8 L2072.0,454.8 L2073.0,511.7 L2073.9,496.8 L2074.8,494.2 L2075.6,450.3 L2076.5,426.2 L2077.4,428.8 L2078.3,397.1 L2079.1,382.3 L2080.0,353.9 L2080.9,356.1 L2081.8,326.6 L2082.6,298.0 L2083.5,290.5 L2084.4,289.0 L2085.2,303.7 L2086.1,335.0 L2087.0,421.1 L2087.8,491.9 L2088.7,441.7 L2089.6,426.6 L2090.5,413.8 L2091.4,386.8 L2092.3,372.9 L2093.2,362.9 L2094.1,380.7 L2095.0,423.6 L2095.9,444.8 L2096.9,473.2 L2097.8,489.7 L2098.7,507.8 L2099.6,522.7 L2100.4,476.7 L2101.3,452.0 L2102.1,401.2 L2103.0,384.9 L2103.8,343.0 L2104.7,343.0 L2105.6,352.0 L2106.5,416.3 L2107.4,439.4 L2108.2,499.8 L2109.1,502.0 L2110.0,558.9 L2110.9,579.6 L2111.8,648.0 L2112.7,605.6 L2113.5,608.5 L2114.3,573.4 L2115.2,510.1 L2116.1,530.6 L2116.9,463.0 L2117.8,321.1 L2118.6,274.3 L2119.6,437.1 L2120.7,607.9 L2121.5,605.0 L2122.4,561.8 L2123.2,496.1 L2124.1,497.4 L2124.9,438.6 L2125.8,434.0 L2126.6,388.2 L2127.5,388.2 L2128.4,550.8 L2129.2,657.6 L2130.1,625.6 L2131.0,638.5 L2131.9,629.3 L2132.8,634.7 L2133.6,764.9 L2134.5,799.0 L2135.4,799.0 L2136.3,749.5 L2137.1,640.3 L2138.0,560.1 L2138.8,389.5 L2139.7,389.5 L2140.6,447.1 L2141.5,494.5 L2142.4,575.1 L2143.3,556.6 L2144.2,539.6 L2145.1,577.3 L2146.0,626.9 L2146.9,626.9 L2147.9,560.8 L2148.9,490.7 L2149.8,365.8 L2150.6,365.8 L2151.5,474.4 L2152.3,481.3 L2153.2,531.7 L2154.0,714.6 L2154.8,577.7 L2155.7,520.4 L2156.6,476.7 L2157.4,359.6 L2158.2,356.5 L2159.1,315.1 L2160.0,293.3 L2160.8,293.3 L2161.7,337.5 L2162.6,452.6 L2163.5,498.8 L2164.4,554.7 L2165.2,590.2 L2166.1,670.3 L2167.0,713.9 L2167.9,716.7 L2168.8,675.2 L2169.7,580.9 L2170.6,546.7 L2171.5,461.9 L2172.4,427.0 L2173.3,309.6 L2174.2,260.9 L2175.1,197.5 L2175.9,234.3 L2176.8,333.5 L2177.7,373.7 L2178.5,350.1 L2179.3,419.8 L2180.2,405.8 L2181.1,540.6 L2181.9,637.4 L2182.7,569.3 L2183.6,454.0 L2184.4,483.9 L2185.3,309.2 L2186.1,287.8 L2187.0,340.1 L2188.0,453.4 L2188.9,439.7 L2189.8,457.1 L2190.8,498.8 L2191.7,543.1 L2192.6,529.3 L2193.6,530.1 L2194.5,608.7 L2195.3,585.6 L2196.2,486.8 L2197.0,514.0 L2197.9,511.3 L2198.7,539.2 L2199.6,459.0 L2200.4,320.7 L2201.4,397.8 L2202.5,447.8 L2203.6,421.5 L2204.6,390.3 L2205.5,400.4 L2206.5,423.5 L2207.4,467.9 L2208.4,516.4 L2209.3,522.3 L2210.3,517.6 L2211.2,561.4 L2212.2,591.0 L2213.2,481.0 L2214.2,401.9 L2215.2,365.0 L2216.0,422.2 L2216.9,483.6 L2217.7,546.7 L2218.6,542.8 L2219.4,601.6 L2220.2,587.2 L2221.0,573.0 L2221.8,541.9 L2222.6,527.4 L2223.6,610.2 L2224.7,648.6 L2225.7,679.6 L2226.5,657.2 L2227.3,622.0 L2228.1,600.7 L2228.8,615.7 L2229.6,633.4 L2230.4,650.9 L2231.2,650.9 L2232.1,617.2 L2232.9,509.3 L2233.8,536.9 L2234.6,398.4 L2235.5,314.1 L2236.3,208.9 L2237.2,256.5 L2238.1,268.4 L2239.0,357.8 L2239.9,428.7 L2240.8,443.2 L2241.7,493.8 L2242.6,554.3 L2243.4,538.0 L2244.3,487.0 L2245.2,382.7 L2246.0,382.7 L2246.8,382.7 L2247.6,410.1 L2248.4,457.0 L2249.2,458.0 L2249.9,404.3 L2250.7,310.5 L2251.5,276.0 L2252.3,248.9 L2253.2,290.4 L2254.0,288.2 L2254.9,349.1 L2255.7,395.1 L2256.6,463.8 L2257.4,560.2 L2258.2,521.4 L2259.1,477.0 L2259.9,426.9 L2260.8,338.4 L2261.6,338.4 L2262.5,391.3 L2263.4,409.7 L2264.4,469.8 L2265.3,569.0 L2266.2,626.0 L2267.1,515.3 L2267.9,440.4 L2268.8,432.5 L2269.6,432.5 L2270.5,432.5 L2271.3,476.2 L2272.2,497.0 L2273.0,563.4 L2273.8,634.5 L2274.8,618.0 L2275.7,634.5 L2276.7,291.7 L2277.6,273.4 L2278.4,305.4 L2279.2,348.5 L2280.0,364.2 L2280.8,439.3 L2281.6,431.3 L2282.4,370.3 L2283.2,365.0 L2284.0,365.0 L2284.8,401.7 L2285.7,439.0 L2286.5,510.7 L2287.3,549.2 L2288.2,559.8 L2289.0,580.5 L2289.9,552.4 L2290.8,478.9 L2291.8,449.7 L2292.7,355.8 L2293.6,278.1 L2294.5,268.8 L2295.5,330.9 L2296.4,317.6 L2297.4,348.3 L2298.4,347.7 L2299.3,374.6 L2300.3,325.0 L2301.3,302.4 L2302.3,283.8 L2303.2,231.3 L2304.2,226.6 L2305.1,235.8 L2306.0,371.3 L2306.9,481.6 L2307.8,451.7 L2308.6,529.5 L2309.5,651.5 L2310.4,707.4 L2311.3,746.3 L2312.2,823.1 L2313.1,711.2 L2314.0,686.8 L2314.9,515.3 L2315.9,556.1 L2316.8,471.6 L2317.7,185.7 L2318.6,185.7 L2319.5,399.0 L2320.4,300.3 L2321.3,330.6 L2322.3,286.3 L2323.2,522.4 L2324.1,630.2 L2325.1,471.7 L2326.0,469.7 L2327.0,416.9 L2327.8,438.9 L2328.6,468.8 L2329.4,495.5 L2330.2,495.5 L2330.9,423.0 L2331.7,412.2 L2332.5,412.2 L2333.3,412.2 L2334.2,492.6 L2335.0,426.0 L2335.8,604.5 L2336.7,660.6 L2337.5,606.4 L2338.4,599.2 L2339.2,555.6 L2340.1,421.1 L2340.9,331.2 L2341.8,378.9 L2342.7,377.8 L2343.6,481.0 L2344.5,462.8 L2345.4,444.6 L2346.3,540.6 L2347.2,556.0 L2348.1,654.3 L2349.0,604.9 L2349.8,503.7 L2350.7,415.1 L2351.6,365.3" fill="none" stroke="#00bfff" stroke-width="6.1" stroke-linejoin="round" stroke-linecap="round" clip-path="url(#cm)"/>
<g clip-path="url(#cm)" fill="none">
<line x1="75.6" y1="464.4" x2="2460" y2="464.4" stroke="#ffffff" stroke-opacity="0.9" stroke-width="5.1" stroke-dasharray="19.21 8.31"/>
<line x1="75" y1="343.1" x2="2460" y2="343.1" stroke="#00ff00" stroke-opacity="0.9" stroke-width="4.28" stroke-dasharray="4.28 7.055"/>
<line x1="75" y1="586.0" x2="2460" y2="586.0" stroke="#00ff00" stroke-opacity="0.9" stroke-width="4.28" stroke-dasharray="4.28 7.055"/>
<line x1="75.5" y1="222.5" x2="2460" y2="222.5" stroke="#ff0000" stroke-opacity="0.9" stroke-width="5.15" stroke-dasharray="33.24 8.31 5.19 8.31"/>
<line x1="75.5" y1="707.6" x2="2460" y2="707.6" stroke="#ff0000" stroke-opacity="0.9" stroke-width="5.15" stroke-dasharray="33.24 8.31 5.19 8.31"/>
<line x1="75" y1="465.7" x2="2460" y2="465.7" stroke="#aaaaaa" stroke-opacity="0.85" stroke-width="2.7"/>
</g>
<circle cx="2351.6" cy="365.3" r="11.9" fill="#ff0000"/>
<rect x="89.3" y="83.9" width="816.0" height="134.29999999999998" rx="5.5" ry="5.5" fill="#333333" fill-opacity="0.16" stroke="#333333" stroke-opacity="0.75" stroke-width="2.3"/>
<line x1="100.1" y1="108.0" x2="154.9" y2="108.0" stroke="#00bfff" stroke-width="6.1" stroke-linecap="square"/>
<line x1="100" y1="150.3" x2="155.6" y2="150.3" stroke="#ffffff" stroke-opacity="0.9" stroke-width="5.1" stroke-dasharray="19.3 8.5"/>
<line x1="100" y1="191.3" x2="155.6" y2="191.3" stroke="#00ff00" stroke-opacity="0.9" stroke-width="4.3" stroke-dasharray="4.29 7.07"/>
<line x1="528" y1="108.0" x2="583.6" y2="108.0" stroke="#00ff00" stroke-opacity="0.9" stroke-width="4.3" stroke-dasharray="4.29 7.07"/>
<line x1="528" y1="150.5" x2="583.6" y2="150.5" stroke="#ff0000" stroke-opacity="0.9" stroke-width="5.2" stroke-dasharray="33.5 8.25 5.15 8.25"/>
<line x1="528" y1="191.3" x2="583.6" y2="191.3" stroke="#ff0000" stroke-opacity="0.9" stroke-width="5.2" stroke-dasharray="33.5 8.25 5.15 8.25"/>
<line x1="731" y1="108.3" x2="789" y2="108.3" stroke="#999999" stroke-width="2.9"/>
<circle cx="759.6" cy="152.5" r="12" fill="#ff0000"/>
<text x="175.81 196.62 214.64 241.16 258.31 275.06 290.06 298.46 308.48 325.16 334.06 348.57 357.18 367.10 385.52 409.44 429.04 447.08 465.38" y="117.00" font-size="29.44" font-family="Liberation Sans, sans-serif" fill="#ffffff" >Composite z (EMA20)</text>
<text x="178.24 204.38 220.33 238.75" y="158.90" font-size="29.44" font-family="Liberation Sans, sans-serif" fill="#ffffff" >mean</text>
<text x="178.10 200.67 217.93 232.79" y="203.79 200.60 200.60 200.60" font-size="29.44" font-family="Liberation Sans, sans-serif" fill="#ffffff" ><tspan font-size="35.79">+</tspan>1sd</text>
<text x="604.81 615.22 632.47 647.34" y="117.00" font-size="29.44" font-family="Liberation Sans, sans-serif" fill="#ffffff" >-1sd</text>
<text x="605.90 628.26 645.73 660.59" y="162.09 158.90 158.90 158.90" font-size="29.44" font-family="Liberation Sans, sans-serif" fill="#ffffff" ><tspan font-size="35.79">+</tspan>2sd</text>
<text x="604.81 615.00 632.47 647.34" y="200.60" font-size="29.44" font-family="Liberation Sans, sans-serif" fill="#ffffff" >-2sd</text>
<text x="809.95" y="117.00" font-size="29.44" font-family="Liberation Sans, sans-serif" fill="#ffffff" >0</text>
<text x="809.42 824.05 843.08 853.11 869.86 885.54" y="158.90" font-size="29.44" font-family="Liberation Sans, sans-serif" fill="#ffffff" >Latest</text>
<text x="991.13 1020.57 1047.85 1075.70 1088.55 1102.80 1113.92 1143.83 1169.73 1207.85 1232.50 1256.58 1278.15 1290.22 1304.63 1328.59 1341.39 1362.25 1374.61 1388.88 1415.36 1449.74 1477.91 1503.85 1530.14" y="39.90" font-size="42.31" font-family="Liberation Sans, sans-serif" fill="#ffffff" >DAX - Composite z (EMA20)</text>
<rect x="74" y="70" width="2" height="1068" fill="#888888" shape-rendering="crispEdges"/>
<rect x="2459" y="70" width="2" height="1068" fill="#888888" shape-rendering="crispEdges"/>
<rect x="74" y="70" width="2387" height="2" fill="#888888" shape-rendering="crispEdges"/>
<rect x="74" y="1136" width="2387" height="2" fill="#888888" shape-rendering="crispEdges"/>
<rect x="2499" y="70" width="2" height="1068" fill="#888888" shape-rendering="crispEdges"/>
<rect x="3180" y="70" width="2" height="1068" fill="#888888" shape-rendering="crispEdges"/>
<rect x="2499" y="70" width="683" height="2" fill="#888888" shape-rendering="crispEdges"/>
<rect x="2499" y="1136" width="683" height="2" fill="#888888" shape-rendering="crispEdges"/>
<rect x="296" y="1138" width="2" height="9.7" fill="#f0f0f0" shape-rendering="crispEdges"/>
<text x="258.98 278.33 297.61 316.98" y="1181.90" font-size="32.11" font-family="Liberation Sans, sans-serif" fill="#e6e6e6" >1990</text>
<rect x="582" y="1138" width="2" height="9.7" fill="#f0f0f0" shape-rendering="crispEdges"/>
<text x="544.64 563.99 583.27 602.52" y="1181.90" font-size="32.11" font-family="Liberation Sans, sans-serif" fill="#e6e6e6" >1995</text>
<rect x="867" y="1138" width="2" height="9.7" fill="#f0f0f0" shape-rendering="crispEdges"/>
<text x="830.07 849.74 869.02 888.30" y="1181.90" font-size="32.11" font-family="Liberation Sans, sans-serif" fill="#e6e6e6" >2000</text>
<rect x="1153" y="1138" width="2" height="9.7" fill="#f0f0f0" shape-rendering="crispEdges"/>
<text x="1115.88 1135.56 1154.84 1174.00" y="1181.90" font-size="32.11" font-family="Liberation Sans, sans-serif" fill="#e6e6e6" >2005</text>
<rect x="1439" y="1138" width="2" height="9.7" fill="#f0f0f0" shape-rendering="crispEdges"/>
<text x="1401.54 1421.22 1440.33 1459.78" y="1181.90" font-size="32.11" font-family="Liberation Sans, sans-serif" fill="#e6e6e6" >2010</text>
<rect x="1724" y="1138" width="2" height="9.7" fill="#f0f0f0" shape-rendering="crispEdges"/>
<text x="1687.20 1706.88 1725.99 1745.32" y="1181.90" font-size="32.11" font-family="Liberation Sans, sans-serif" fill="#e6e6e6" >2015</text>
<rect x="2010" y="1138" width="2" height="9.7" fill="#f0f0f0" shape-rendering="crispEdges"/>
<text x="1972.86 1992.54 2011.42 2031.09" y="1181.90" font-size="32.11" font-family="Liberation Sans, sans-serif" fill="#e6e6e6" >2020</text>
<rect x="2296" y="1138" width="2" height="9.7" fill="#f0f0f0" shape-rendering="crispEdges"/>
<text x="2258.68 2278.35 2297.23 2316.79" y="1181.90" font-size="32.11" font-family="Liberation Sans, sans-serif" fill="#e6e6e6" >2025</text>
<rect x="64.3" y="238" width="9.7" height="2" fill="#f0f0f0" shape-rendering="crispEdges"/>
<text x="35.81" y="250.00" font-size="32.00" font-family="Liberation Sans, sans-serif" fill="#e6e6e6" >1</text>
<rect x="64.3" y="464" width="9.7" height="2" fill="#f0f0f0" shape-rendering="crispEdges"/>
<text x="36.09" y="475.50" font-size="32.00" font-family="Liberation Sans, sans-serif" fill="#e6e6e6" >0</text>
<rect x="64.3" y="690" width="9.7" height="2" fill="#f0f0f0" shape-rendering="crispEdges"/>
<text x="9.95 34.51" y="705.27 701.80" font-size="32.00" font-family="Liberation Sans, sans-serif" fill="#e6e6e6" ><tspan font-size="38.91">−</tspan>1</text>
<rect x="64.3" y="915" width="9.7" height="2" fill="#f0f0f0" shape-rendering="crispEdges"/>
<text x="10.04 34.36" y="931.47 928.00" font-size="32.00" font-family="Liberation Sans, sans-serif" fill="#e6e6e6" ><tspan font-size="38.91">−</tspan>2</text>
<g fill="#999999" stroke="#ffffff" stroke-width="1">
<rect x="2500.5" y="184.5" width="18.0" height="16.0"/>
<rect x="2500.5" y="200.5" width="19.0" height="17.0"/>
<rect x="2500.5" y="217.5" width="21.0" height="17.0"/>
<rect x="2500.5" y="234.5" width="51.0" height="17.0"/>
<rect x="2500.5" y="251.5" width="129.0" height="17.0"/>
<rect x="2500.5" y="268.5" width="145.0" height="16.0"/>
<rect x="2500.5" y="284.5" width="250.0" height="17.0"/>
<rect x="2500.5" y="301.5" width="478.0" height="17.0"/>
<rect x="2500.5" y="318.5" width="528.0" height="17.0"/>
<rect x="2500.5" y="335.5" width="539.0" height="17.0"/>
<rect x="2500.5" y="352.5" width="520.0" height="17.0"/>
<rect x="2500.5" y="369.5" width="578.0" height="16.0"/>
<rect x="2500.5" y="385.5" width="648.0" height="17.0"/>
<rect x="2500.5" y="402.5" width="584.0" height="17.0"/>
<rect x="2500.5" y="419.5" width="555.0" height="17.0"/>
<rect x="2500.5" y="436.5" width="540.0" height="17.0"/>
<rect x="2500.5" y="453.5" width="488.0" height="16.0"/>
<rect x="2500.5" y="469.5" width="463.0" height="17.0"/>
<rect x="2500.5" y="486.5" width="413.0" height="17.0"/>
<rect x="2500.5" y="503.5" width="395.0" height="17.0"/>
<rect x="2500.5" y="520.5" width="423.0" height="17.0"/>
<rect x="2500.5" y="537.5" width="370.0" height="17.0"/>
<rect x="2500.5" y="554.5" width="359.0" height="16.0"/>
<rect x="2500.5" y="570.5" width="385.0" height="17.0"/>
<rect x="2500.5" y="587.5" width="360.0" height="17.0"/>
<rect x="2500.5" y="604.5" width="337.0" height="17.0"/>
<rect x="2500.5" y="621.5" width="333.0" height="17.0"/>
<rect x="2500.5" y="638.5" width="237.0" height="16.0"/>
<rect x="2500.5" y="654.5" width="179.0" height="17.0"/>
<rect x="2500.5" y="671.5" width="151.0" height="17.0"/>
<rect x="2500.5" y="688.5" width="111.0" height="17.0"/>
<rect x="2500.5" y="705.5" width="100.0" height="17.0"/>
<rect x="2500.5" y="722.5" width="70.0" height="17.0"/>
<rect x="2500.5" y="739.5" width="45.0" height="16.0"/>
<rect x="2500.5" y="755.5" width="20.0" height="17.0"/>
<rect x="2500.5" y="772.5" width="17.0" height="17.0"/>
<rect x="2500.5" y="789.5" width="13.0" height="17.0"/>
<rect x="2500.5" y="806.5" width="14.0" height="17.0"/>
<rect x="2500.5" y="823.5" width="8.0" height="16.0"/>
<rect x="2500.5" y="839.5" width="3.0" height="17.0"/>
<rect x="2500.5" y="890.5" width="2.0" height="17.0"/>
<rect x="2500.5" y="940.5" width="2.0" height="17.0"/>
<rect x="2500.5" y="974.5" width="1.0" height="17.0"/>
<rect x="2500.5" y="991.5" width="2.0" height="17.0"/>
<rect x="2500.5" y="1008.5" width="3.0" height="17.0"/>
</g>
<rect x="2499" y="70" width="2" height="1068" fill="#888888" shape-rendering="crispEdges"/>
<rect x="2499" y="1138" width="2" height="9.7" fill="#f0f0f0" shape-rendering="crispEdges"/>
<text x="2492.79" y="1177.85" font-size="25.91" font-family="Liberation Sans, sans-serif" fill="#e6e6e6" >0</text>
<rect x="2613" y="1138" width="2" height="9.7" fill="#f0f0f0" shape-rendering="crispEdges"/>
<text x="2590.90 2606.59 2622.15" y="1177.85" font-size="25.91" font-family="Liberation Sans, sans-serif" fill="#e6e6e6" >100</text>
<rect x="2727" y="1138" width="2" height="9.7" fill="#f0f0f0" shape-rendering="crispEdges"/>
<text x="2704.51 2720.39 2735.95" y="1177.85" font-size="25.91" font-family="Liberation Sans, sans-serif" fill="#e6e6e6" >200</text>
<rect x="2840" y="1138" width="2" height="9.7" fill="#f0f0f0" shape-rendering="crispEdges"/>
<text x="2818.67 2834.19 2849.75" y="1177.85" font-size="25.91" font-family="Liberation Sans, sans-serif" fill="#e6e6e6" >300</text>
<rect x="2954" y="1138" width="2" height="9.7" fill="#f0f0f0" shape-rendering="crispEdges"/>
<text x="2932.43 2947.99 2963.55" y="1177.85" font-size="25.91" font-family="Liberation Sans, sans-serif" fill="#e6e6e6" >400</text>
<rect x="3068" y="1138" width="2" height="9.7" fill="#f0f0f0" shape-rendering="crispEdges"/>
<text x="3046.14 3061.79 3077.35" y="1177.85" font-size="25.91" font-family="Liberation Sans, sans-serif" fill="#e6e6e6" >500</text>
<text x="2767.84 2784.10 2793.91 2810.94 2828.56 2845.91 2863.15 2879.91 2895.99" y="1217.00" font-size="29.24" font-family="Liberation Sans, sans-serif" fill="#e6e6e6" >Frequency</text>
</svg></body></html>
